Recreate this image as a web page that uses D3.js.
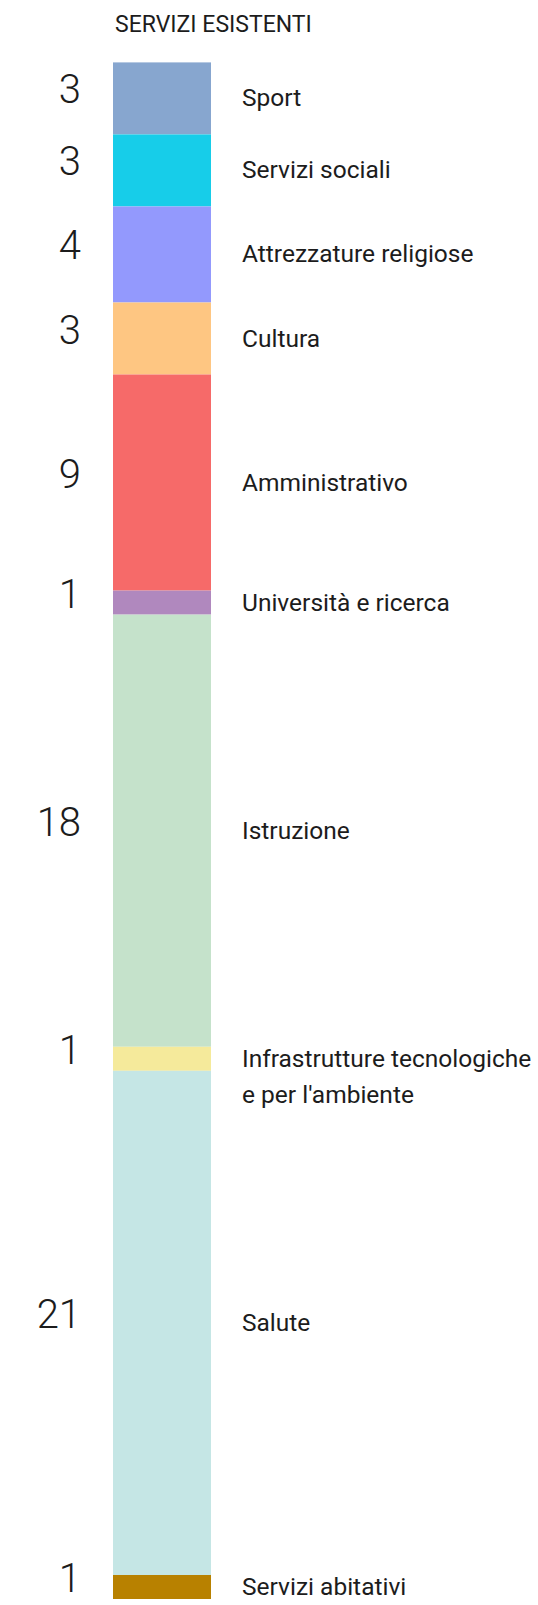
<!DOCTYPE html>
<html>
<head>
<meta charset="utf-8">
<script src="https://cdn.jsdelivr.net/npm/d3@7"></script>
<style>
  html, body { margin: 0; padding: 0; background: #fff; }
  svg { display: block; }
  text { font-family: Roboto, "Noto Sans", sans-serif; fill: #1c1c1c; }
</style>
</head>
<body>
<svg id="chart" width="538" height="1605"></svg>
<script>
// Existing services, counted by category (stacked top to bottom)
const title = "SERVIZI ESISTENTI";
const categories = [
  "Sport",
  "Servizi sociali",
  "Attrezzature religiose",
  "Cultura",
  "Amministrativo",
  "Università e ricerca",
  "Istruzione",
  "Infrastrutture tecnologiche\ne per l'ambiente",
  "Salute",
  "Servizi abitativi"
];
const counts = [3, 3, 4, 3, 9, 1, 18, 1, 21, 1];
const colors = [
  "#87a6cf", "#17cde9", "#9399fd", "#fec682", "#f66a69",
  "#b088be", "#c5e2cb", "#f5ea9b", "#c5e6e5", "#b88100"
];

const svg = d3.select("#chart");
const barX0 = 113, barX1 = 211;
const barTop = 62.4, barBottom = 1599;

// Cumulative start/end of each segment
let acc = 0;
const segs = categories.map((c, i) => {
  const s = { name: c, value: counts[i], color: colors[i], y0: acc, y1: acc + counts[i] };
  acc += counts[i];
  return s;
});
const total = d3.sum(counts);

const y = d3.scaleLinear().domain([0, total]).range([barTop, barBottom]);
const x = d3.scaleLinear().domain([0, 1]).range([barX0, barX1]);

svg.append("text")
  .attr("x", 115)
  .attr("y", 32)
  .attr("font-size", 23)
  .attr("font-weight", 400)
  .text(title);

const g = svg.append("g");

g.selectAll("rect.seg")
  .data(segs)
  .join("rect")
  .attr("class", "seg")
  .attr("x", x(0))
  .attr("width", x(1) - x(0))
  .attr("y", d => y(d.y0))
  .attr("height", d => y(d.y1) - y(d.y0))
  .attr("fill", d => d.color);

// Count to the left of the bar
g.selectAll("text.num")
  .data(segs)
  .join("text")
  .attr("class", "num")
  .attr("x", 81)
  .attr("y", d => (y(d.y0) + y(d.y1)) / 2 + 5)
  .attr("text-anchor", "end")
  .attr("font-size", 40)
  .attr("font-weight", 300)
  .text(d => d.value);

// Category name to the right of the bar
const labels = g.selectAll("text.lab")
  .data(segs)
  .join("text")
  .attr("class", "lab")
  .attr("x", 242)
  .attr("y", d => (y(d.y0) + y(d.y1)) / 2 + 8)
  .attr("font-size", 24.5);

labels.selectAll("tspan")
  .data(d => d.name.split("\n"))
  .join("tspan")
  .attr("x", 242)
  .attr("dy", (d, i) => i === 0 ? 0 : 36)
  .text(d => d);
</script>
</body>
</html>
